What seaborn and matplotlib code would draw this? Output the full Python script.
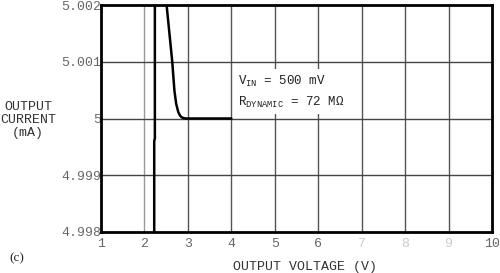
import matplotlib
matplotlib.use("Agg")
import matplotlib.pyplot as plt
import seaborn as sns
import pandas as pd

# Data
vert_v = [2.225, 2.225, 2.24, 2.24]
vert_i = [4.998, 4.9996, 4.99965, 5.002]
curve_v = [2.51, 2.64, 2.69, 2.73, 2.78, 2.82, 2.86, 2.91, 2.97, 4.0]
curve_i = [5.002, 5.001, 5.00049, 5.00026, 5.00011, 5.00005, 5.00002, 5.000005, 5.0, 5.0]
x_ticks = [1, 2, 3, 4, 5, 6, 7, 8, 9, 10]
y_ticks = [4.998, 4.999, 5.0, 5.001, 5.002]
y_tick_labels = ["4.998", "4.999", "5", "5.001", "5.002"]

sns.set_style("white")
plt.rcParams['font.family'] = ['Liberation Mono', 'DejaVu Sans']
plt.rcParams['mathtext.fontset'] = 'custom'
plt.rcParams['mathtext.rm'] = 'Liberation Mono'
plt.rcParams['mathtext.it'] = 'Liberation Mono'

df = pd.DataFrame({
    "v": vert_v + curve_v,
    "i": vert_i + curve_i,
    "seg": ["a"] * len(vert_v) + ["b"] * len(curve_v),
})

fig = plt.figure(figsize=(5, 2.73), dpi=100)
ax = fig.add_axes([101 / 500, 1 - 232 / 273, (492 - 101) / 500, (232 - 5) / 273])

for xv in x_ticks[1:-1]:
    ax.axvline(xv, color="#999999" if xv == 2 else "#555555", lw=1.0, zorder=1)
for yv in y_ticks[1:-1]:
    ax.axhline(yv, color="#444444", lw=1.0, zorder=1)

sns.lineplot(data=df, x="v", y="i", units="seg", estimator=None, sort=False,
             color="black", lw=1.8, ax=ax, zorder=3)

ax.set_xlim(1, 10)
ax.set_ylim(4.998, 5.002)
ax.set_xticks(x_ticks)
ax.set_xticklabels([str(x) for x in x_ticks])
ax.set_yticks(y_ticks)
ax.set_yticklabels(y_tick_labels)
ax.tick_params(axis="both", length=0, labelsize=9.5, labelcolor="#666666")
ax.tick_params(axis="x", pad=4)
ax.tick_params(axis="y", pad=0)
for lbl in ax.get_xticklabels():
    if lbl.get_text() in ("7", "8", "9"):
        lbl.set_color("#cccccc")
ax.set_xlabel("")
ax.set_ylabel("")
for s in ax.spines.values():
    s.set_color("black")
    s.set_linewidth(2)
    s.set_visible(True)

ax.text(4.15, 5.00047, "V$_{\\mathrm{IN}}$ = 500 mV\nR$_{\\mathrm{DYNAMIC}}$ = 72 MΩ",
        fontsize=9, color="#222222", va="center", ha="left", zorder=4,
        linespacing=1.6,
        bbox=dict(facecolor="white", edgecolor="none", pad=3))

fig.text(305 / 500, 1 - 267 / 273, "OUTPUT VOLTAGE (V)", ha="center", va="center",
         fontsize=9.5, color="#333333")
fig.text(28 / 500, 1 - 120 / 273, "OUTPUT\nCURRENT\n(mA)", ha="center", va="center",
         fontsize=9.5, color="#333333", linespacing=1.15)
fig.text(17 / 500, 1 - 258 / 273, "(c)", ha="center", va="center",
         fontsize=9.5, color="#222222", family="Liberation Serif")

fig.savefig("out.png", dpi=100)
